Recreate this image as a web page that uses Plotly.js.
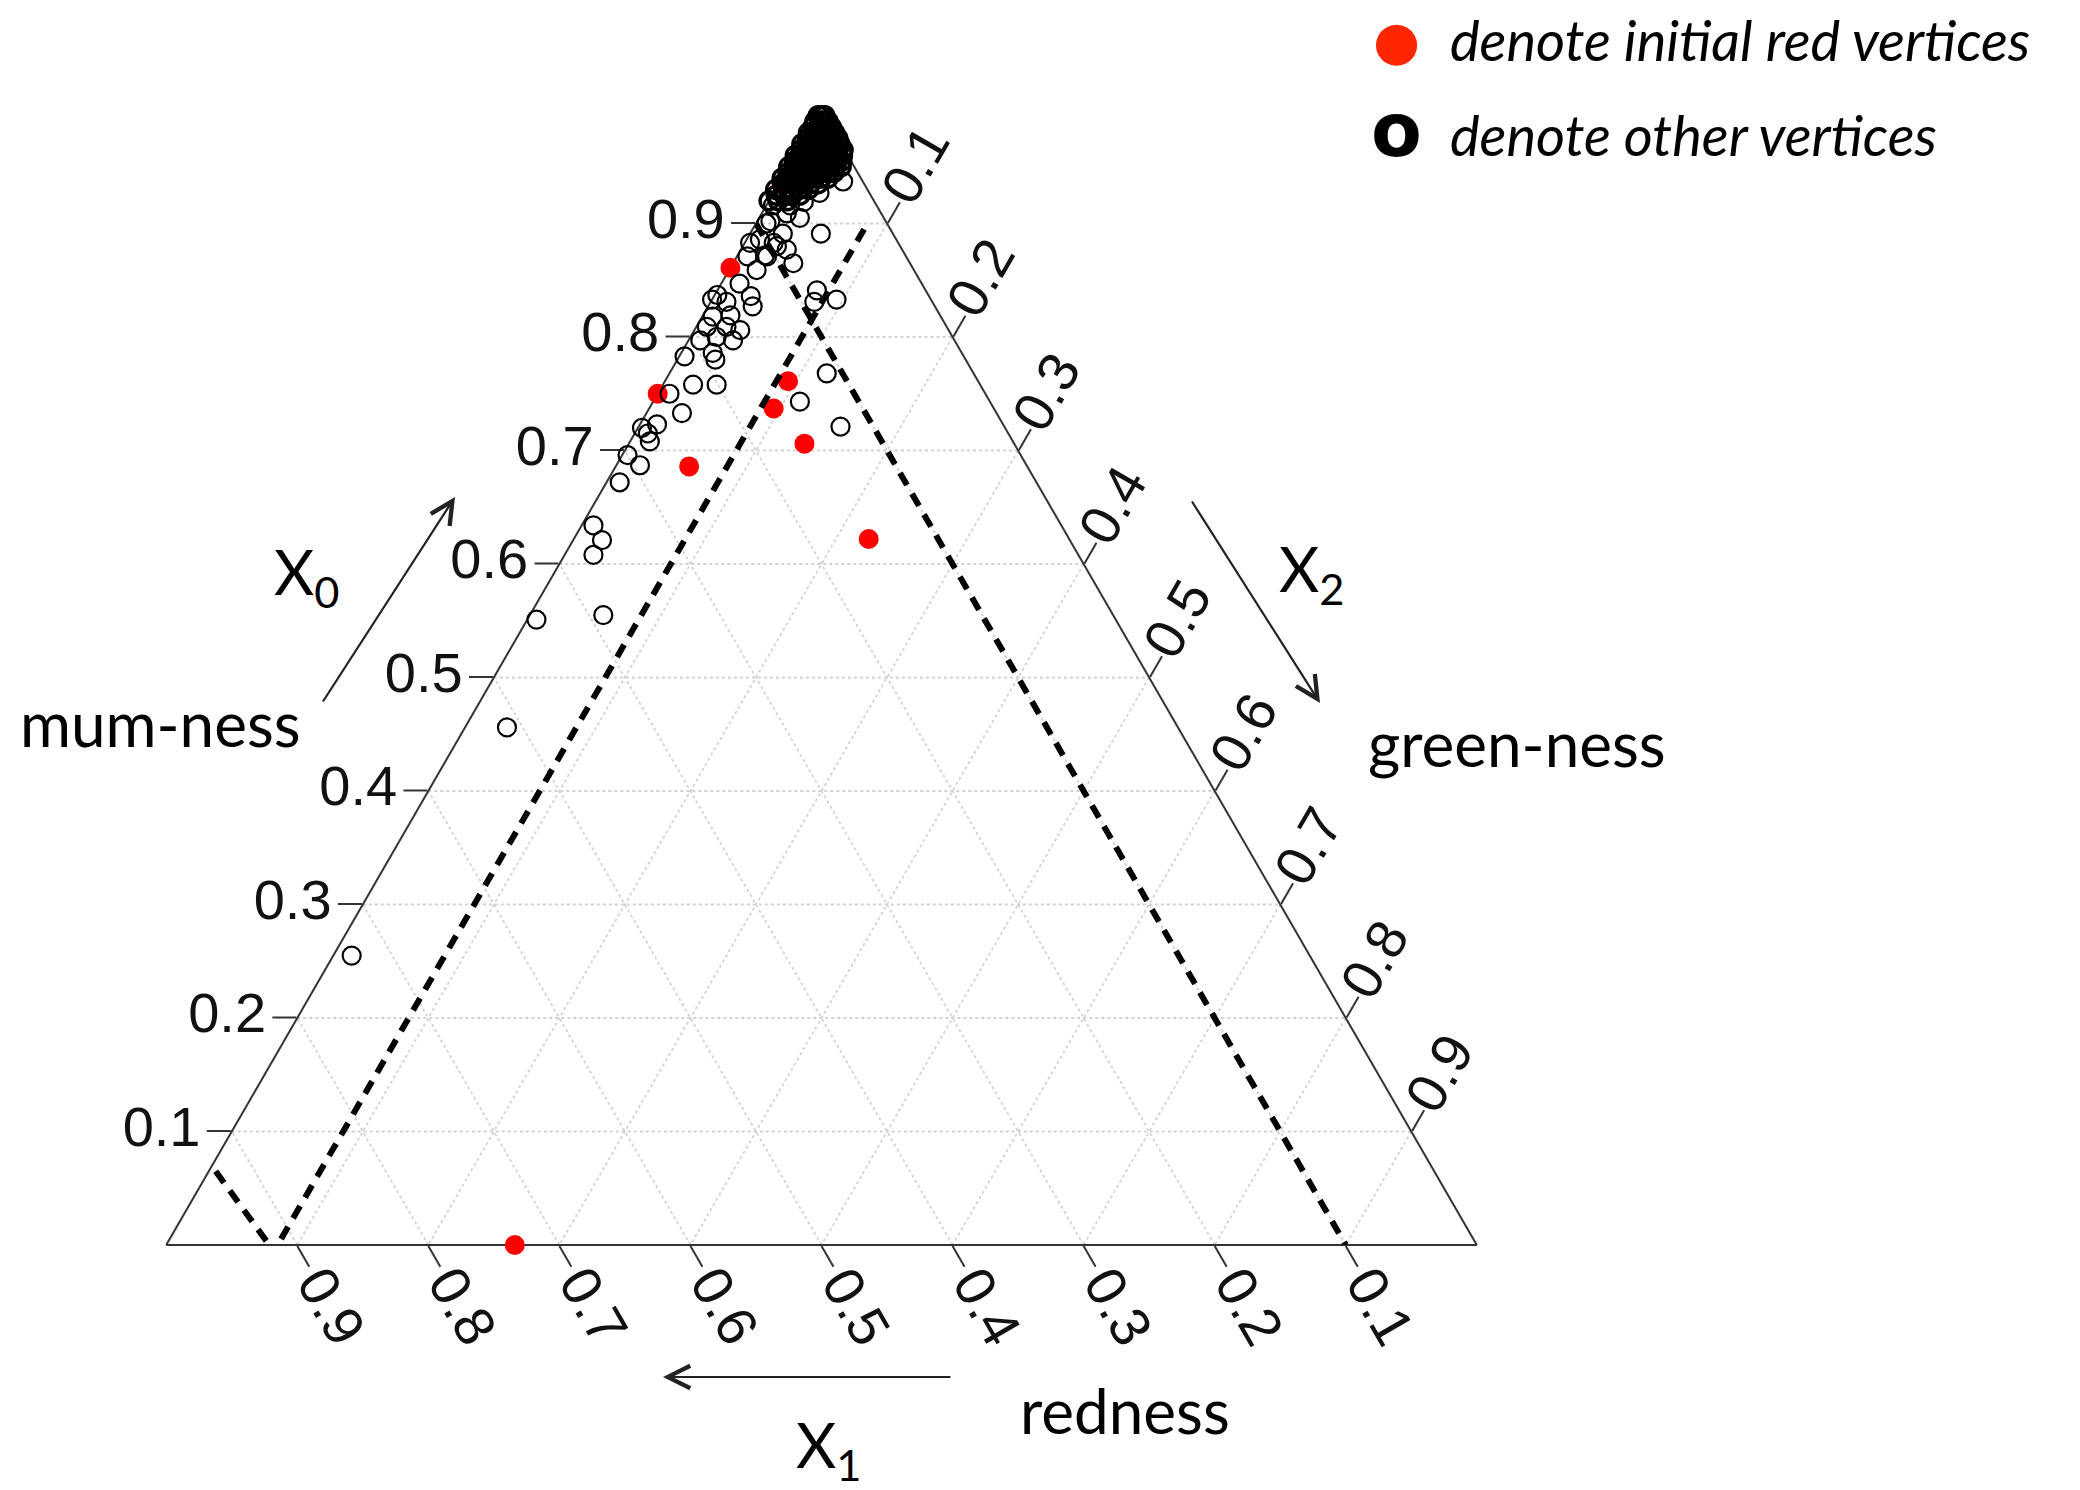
<!DOCTYPE html>
<html>
<head>
<meta charset="utf-8">
<script src="https://cdn.plot.ly/plotly-3.0.1.min.js"></script>
<style>html,body{margin:0;padding:0;background:#fff;}#chart{width:2080px;height:1490px;}</style>
</head>
<body>
<div id="chart"></div>
<script>
// ---------- data (ternary coordinates: a = X0 mum-ness, b = X1 redness, c = X2 green-ness) ----------
const tickVals = [0.1, 0.2, 0.3, 0.4, 0.5, 0.6, 0.7, 0.8, 0.9];
const tickText = ['0.1', '0.2', '0.3', '0.4', '0.5', '0.6', '0.7', '0.8', '0.9'];

// initial red vertices
const redA = [0.000, 0.622, 0.706, 0.737, 0.761, 0.686, 0.750, 0.861, 0.935];
const redB = [0.734, 0.153, 0.160, 0.168, 0.145, 0.258, 0.250, 0.139, 0.063];
const redC = [0.266, 0.225, 0.134, 0.095, 0.094, 0.056, 0.000, 0.000, 0.002];

// other vertices (scattered ones)
const otherA = [0.255, 0.456, 0.551, 0.555, 0.634, 0.621, 0.608, 0.672,
  0.750, 0.758, 0.758, 0.733, 0.720, 0.723, 0.708, 0.715, 0.696, 0.687,
  0.865, 0.841, 0.833, 0.768, 0.743, 0.721, 0.827, 0.836, 0.837, 0.819, 0.818, 0.797, 0.800, 0.797,
  0.786, 0.783, 0.780, 0.847, 0.859, 0.871, 0.883, 0.877, 0.871, 0.891, 0.833, 0.831, 0.809, 0.809,
  0.806, 0.831, 0.937, 0.927, 0.905, 0.902, 0.916, 0.919, 0.916, 0.900, 0.909, 0.891, 0.880, 0.883,
  0.886, 0.872];
const otherB = [0.731, 0.512, 0.442, 0.389, 0.357, 0.357, 0.370, 0.318,
  0.241, 0.219, 0.201, 0.240, 0.277, 0.264, 0.277, 0.275, 0.300, 0.295,
  0.089, 0.083, 0.072, 0.112, 0.145, 0.125, 0.139, 0.136, 0.161, 0.160, 0.174, 0.169, 0.180, 0.194,
  0.190, 0.213, 0.191, 0.139, 0.120, 0.121, 0.095, 0.088, 0.106, 0.055, 0.167, 0.157, 0.183, 0.168,
  0.159, 0.090, 0.015, 0.038, 0.064, 0.088, 0.066, 0.054, 0.079, 0.092, 0.072, 0.084, 0.094, 0.113,
  0.104, 0.107];
const otherC = [0.014, 0.032, 0.007, 0.056, 0.009, 0.022, 0.022, 0.010,
  0.009, 0.023, 0.041, 0.027, 0.003, 0.013, 0.015, 0.010, 0.004, 0.018,
  0.046, 0.076, 0.095, 0.120, 0.112, 0.154, 0.034, 0.028, 0.002, 0.021, 0.008, 0.034, 0.020, 0.009,
  0.024, 0.004, 0.029, 0.014, 0.021, 0.008, 0.022, 0.035, 0.023, 0.054, 0.000, 0.012, 0.008, 0.023,
  0.035, 0.079, 0.048, 0.035, 0.031, 0.010, 0.018, 0.027, 0.005, 0.008, 0.019, 0.025, 0.026, 0.004,
  0.010, 0.021];

// other vertices (dense cluster at the X0 corner)
const clusterA = [0.995, 0.995, 0.995,
  0.990, 0.990, 0.990, 0.990,
  0.985, 0.985, 0.985, 0.985, 0.985,
  0.980, 0.980, 0.980, 0.980, 0.980, 0.980,
  0.975, 0.975, 0.975, 0.975, 0.975, 0.975, 0.975,
  0.970, 0.970, 0.970, 0.970, 0.970, 0.970, 0.970, 0.970,
  0.965, 0.965, 0.965, 0.965, 0.965, 0.965, 0.965, 0.965, 0.965,
  0.960, 0.960, 0.960, 0.960, 0.960, 0.960, 0.960, 0.960, 0.960, 0.960,
  0.955, 0.955, 0.955, 0.955, 0.955, 0.955, 0.955, 0.955, 0.955, 0.955,
  0.950, 0.950, 0.950, 0.950, 0.950, 0.950, 0.950, 0.950, 0.950, 0.950, 0.950,
  0.945, 0.945, 0.945, 0.945, 0.945, 0.945, 0.945, 0.945,
  0.940, 0.940, 0.940, 0.940, 0.940, 0.940, 0.940, 0.940,
  0.935, 0.935, 0.935, 0.935, 0.935, 0.935,
  0.930, 0.930, 0.930, 0.930, 0.930,
  0.925, 0.925, 0.925, 0.925,
  0.920, 0.920, 0.920];
const clusterB = [0.005, 0.003, 0.000,
  0.010, 0.006, 0.003, 0.000,
  0.014, 0.010, 0.006, 0.002, 0.000,
  0.020, 0.016, 0.012, 0.008, 0.004, 0.000,
  0.023, 0.019, 0.015, 0.011, 0.007, 0.003, 0.000,
  0.030, 0.026, 0.022, 0.018, 0.014, 0.010, 0.006, 0.001,
  0.033, 0.029, 0.025, 0.021, 0.017, 0.013, 0.009, 0.005, 0.001,
  0.040, 0.036, 0.032, 0.028, 0.024, 0.020, 0.016, 0.012, 0.008, 0.004,
  0.043, 0.039, 0.035, 0.031, 0.027, 0.023, 0.019, 0.015, 0.011, 0.007,
  0.050, 0.046, 0.042, 0.038, 0.034, 0.030, 0.026, 0.022, 0.018, 0.014, 0.010,
  0.053, 0.048, 0.043, 0.038, 0.033, 0.028, 0.023, 0.018,
  0.060, 0.055, 0.050, 0.045, 0.040, 0.035, 0.030, 0.025,
  0.062, 0.057, 0.052, 0.047, 0.041, 0.035,
  0.070, 0.064, 0.058, 0.052, 0.045,
  0.072, 0.066, 0.060, 0.054,
  0.080, 0.073, 0.066];
const clusterC = [0.000, 0.002, 0.005,
  0.000, 0.004, 0.007, 0.010,
  0.001, 0.005, 0.009, 0.013, 0.015,
  0.000, 0.004, 0.008, 0.012, 0.016, 0.020,
  0.002, 0.006, 0.010, 0.014, 0.018, 0.022, 0.025,
  0.000, 0.004, 0.008, 0.012, 0.016, 0.020, 0.024, 0.029,
  0.002, 0.006, 0.010, 0.014, 0.018, 0.022, 0.026, 0.030, 0.034,
  0.000, 0.004, 0.008, 0.012, 0.016, 0.020, 0.024, 0.028, 0.032, 0.036,
  0.002, 0.006, 0.010, 0.014, 0.018, 0.022, 0.026, 0.030, 0.034, 0.038,
  0.000, 0.004, 0.008, 0.012, 0.016, 0.020, 0.024, 0.028, 0.032, 0.036, 0.040,
  0.002, 0.007, 0.012, 0.017, 0.022, 0.027, 0.032, 0.037,
  0.000, 0.005, 0.010, 0.015, 0.020, 0.025, 0.030, 0.035,
  0.003, 0.008, 0.013, 0.018, 0.024, 0.030,
  0.000, 0.006, 0.012, 0.018, 0.025,
  0.003, 0.009, 0.015, 0.021,
  0.000, 0.007, 0.014];

// hand-drawn dashed guide lines (end points)
const lineA_a = [0.895, 0.000], lineA_b = [0.020, 0.915], lineA_c = [0.085, 0.085];
const lineB_a = [0.900, 0.000], lineB_b = [0.100, 0.100], lineB_c = [0.000, 0.900];
const lineC_a = [0.082, -0.018], lineC_b = [0.932, 0.919], lineC_c = [-0.014, 0.099];

// texts
const legendTexts = ['denote initial red vertices', 'denote other vertices'];
const axisNames = {a: 'mum-ness', b: 'redness', c: 'green-ness'};
const axisSymbols = {a: 'X<sub>0</sub>', b: 'X<sub>1</sub>', c: 'X<sub>2</sub>'};

// ---------- geometry / styles ----------
const W = 2080, H = 1490;
const TRI = {left: 166, right: 1477, top: 110, bottom: 1245};   // pixel box of the ternary triangle
const SIDE = TRI.right - TRI.left;
const APEX_X = (TRI.left + TRI.right) / 2;

const tickFont = {family: 'Liberation Sans, Arial, sans-serif', size: 56, color: '#111'};
const labelFont = {family: 'Lato, Open Sans, sans-serif', size: 62, color: '#000'};
const legendFont = {family: 'Lato, Open Sans, sans-serif', size: 56, color: '#000', style: 'italic'};

function axisStyle(angle, showLabels) {
  return {
    title: {text: ''},
    tickmode: 'array', tickvals: tickVals, ticktext: tickText,
    ticks: 'outside', ticklen: 24, tickwidth: 2, tickcolor: '#333',
    showline: true, linecolor: '#333', linewidth: 2,
    showgrid: true, gridcolor: '#d2d2d2', gridwidth: 1.8, griddash: 'dot',
    showticklabels: showLabels,
    tickfont: tickFont, tickangle: angle, layer: 'below traces'
  };
}

const dashLine = {color: '#000', width: 6, dash: '14px,10px'};
const otherMarker = {symbol: 'circle-open', color: '#000', size: 18, line: {width: 2.2}};
const clusterMarker = {symbol: 'circle-open', color: '#000', size: 18, line: {width: 3.4}};

const traces = [
  {type: 'scatterternary', mode: 'markers', name: legendTexts[0],
   a: redA, b: redB, c: redC, cliponaxis: false,
   marker: {color: '#ff0000', size: 20, line: {width: 0}}},
  {type: 'scatterternary', mode: 'markers', name: legendTexts[1],
   a: otherA, b: otherB, c: otherC, cliponaxis: false, marker: otherMarker},
  {type: 'scatterternary', mode: 'markers', name: legendTexts[1], showlegend: false,
   a: clusterA, b: clusterB, c: clusterC, cliponaxis: false, marker: clusterMarker},
  {type: 'scatterternary', mode: 'lines', a: lineA_a, b: lineA_b, c: lineA_c, line: dashLine, hoverinfo: 'skip'},
  {type: 'scatterternary', mode: 'lines', a: lineB_a, b: lineB_b, c: lineB_c, line: dashLine, hoverinfo: 'skip'},
  {type: 'scatterternary', mode: 'lines', a: lineC_a, b: lineC_b, c: lineC_c, line: dashLine, hoverinfo: 'skip'}
];

function px(x) { return x / W; }
function py(y) { return 1 - y / H; }
function label(text, x, y, xanchor, yanchor, font, angle) {
  return {text: text, x: px(x), y: py(y), xref: 'paper', yref: 'paper',
          xanchor: xanchor, yanchor: yanchor, showarrow: false, font: font,
          textangle: angle || 0};
}
function arrow(hx, hy, tx, ty) {
  return {text: '', x: px(hx), y: py(hy), xref: 'paper', yref: 'paper',
          ax: tx - hx, ay: ty - hy, axref: 'pixel', ayref: 'pixel',
          showarrow: true, arrowhead: 5, arrowsize: 2, arrowwidth: 2.2, arrowcolor: '#222'};
}

// rotated tick labels of the X1 (bottom) and X2 (right) axes, placed at the tick ends as in the original
const tickLabelAnns = [];
tickVals.forEach(function (v, i) {
  const bx = TRI.left + (1 - v) * SIDE;                 // b = v on the bottom edge
  tickLabelAnns.push(label(tickText[i], bx + 35, TRI.bottom + 61, 'center', 'middle', tickFont, 60));
  const cx = APEX_X + v * SIDE / 2;                       // c = v on the right edge
  const cy = TRI.top + v * (TRI.bottom - TRI.top);
  tickLabelAnns.push(label(tickText[i], cx + 28, cy - 59, 'center', 'middle', tickFont, -60));
});

const annotations = tickLabelAnns.concat([
  label(axisNames.a, 18, 723, 'left', 'middle', labelFont),
  label(axisSymbols.a, 272, 575, 'left', 'middle', labelFont),
  arrow(455, 497, 322, 703),
  label(axisSymbols.c, 1277, 572, 'left', 'middle', labelFont),
  label(axisNames.c, 1366, 743, 'left', 'middle', labelFont),
  arrow(1320, 703, 1191, 500),
  label(axisNames.b, 1018, 1410, 'left', 'middle', labelFont),
  label(axisSymbols.b, 828, 1405, 'center', 'top', labelFont),
  arrow(663, 1377, 952, 1377),
  // legend
  label('●', 1396, 41, 'center', 'middle', {family: 'DejaVu Sans', size: 54, color: '#ff2600'}),
  label('<b>o</b>', 1396, 130, 'center', 'middle', {family: 'DejaVu Sans', size: 74, color: '#000'}),
  label(legendTexts[0], 1448, 40, 'left', 'middle', legendFont),
  label(legendTexts[1], 1448, 134, 'left', 'middle', legendFont)
]);

const layout = {
  width: W, height: H,
  margin: {l: 0, r: 0, t: 0, b: 0},
  paper_bgcolor: '#fff',
  showlegend: false,
  ternary: {
    sum: 1,
    domain: {x: [TRI.left / W, TRI.right / W], y: [1 - TRI.bottom / H, 1 - TRI.top / H]},
    bgcolor: 'rgba(0,0,0,0)',
    aaxis: axisStyle(0, true),
    baxis: axisStyle(60, false),
    caxis: axisStyle(-60, false)
  },
  annotations: annotations
};

Plotly.newPlot('chart', traces, layout, {displayModeBar: false, staticPlot: true});
</script>
</body>
</html>
